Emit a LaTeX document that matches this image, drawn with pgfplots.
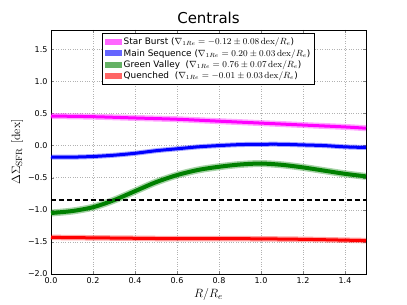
\documentclass[border=0pt]{standalone}
\usepackage{pgfplots}
\pgfplotsset{compat=1.18}
\usepackage[no-math]{fontspec}
\setmainfont{DejaVu Sans}
\definecolor{mpmag}{RGB}{255,0,255}
\definecolor{mpblue}{RGB}{0,0,255}
\definecolor{mpgreen}{RGB}{0,128,0}
\definecolor{mpred}{RGB}{255,0,0}
\begin{document}
\begin{tikzpicture}[x=1pt,y=1pt]
\begin{axis}[
  name=ax,
  at={(0,0)}, anchor=south west,
  scale only axis, width=315pt, height=244pt,
  xmin=0, xmax=1.5, ymin=-2.0, ymax=1.8,
  xtick={0,0.2,0.4,0.6,0.8,1.0,1.2,1.4},
  xticklabels={0.0,0.2,0.4,0.6,0.8,1.0,1.2,1.4},
  ytick={-2.0,-1.5,-1.0,-0.5,0.0,0.5,1.0,1.5},
  yticklabels={−2.0,−1.5,−1.0,−0.5,0.0,0.5,1.0,1.5},
  tick label style={font=\fontsize{8}{9}\selectfont},
  tick align=inside, tick pos=both,
  major tick length=3pt,
  grid=major,
  major grid style={gray!60, dotted, line width=0.5pt},
  axis line style={line width=0.8pt},
  title={Centrals},
  title style={font=\fontsize{15}{17}\selectfont, yshift=-3pt},
  xlabel={$R/R_e$},
  ylabel={$\Delta\Sigma_{\rm SFR}\ [{\rm dex}]$},
  xlabel style={font=\fontsize{13}{15}\selectfont, yshift=2pt},
  ylabel style={font=\fontsize{13}{15}\selectfont, yshift=-2pt},
  legend style={at={(0.5,0.987)}, anchor=north, draw=black, line width=0.7pt,
    fill=white, font=\fontsize{8.9}{10}\selectfont, row sep=-1pt, inner sep=2.5pt},
  legend image code/.code={\fill[#1] (0pt,-3pt) rectangle (17pt,3pt);},
  legend cell align=left,
]
\addlegendimage{draw=none, fill=mpmag, fill opacity=0.6}
\addlegendentry{Star Burst ($\nabla_{1Re} = -0.12\pm0.08\,{\rm dex}/R_e$)}
\addlegendimage{draw=none, fill=mpblue, fill opacity=0.6}
\addlegendentry{Main Sequence ($\nabla_{1Re} = 0.20\pm0.03\,{\rm dex}/R_e$)}
\addlegendimage{draw=none, fill=mpgreen, fill opacity=0.6}
\addlegendentry{Green Valley\ \ ($\nabla_{1Re} = 0.76\pm0.07\,{\rm dex}/R_e$)}
\addlegendimage{draw=none, fill=mpred, fill opacity=0.6}
\addlegendentry{Quenched\ \ ($\nabla_{1Re} = -0.01\pm0.03\,{\rm dex}/R_e$)}

% Star burst
\addplot[mpmag, opacity=0.35, line width=6pt, smooth, forget plot] coordinates {(0,0.46)(0.2,0.45)(0.4,0.43)(0.6,0.41)(0.8,0.38)(1.0,0.35)(1.2,0.32)(1.4,0.29)(1.5,0.27)};
\addplot[mpmag, line width=3pt, smooth, forget plot] coordinates {(0,0.46)(0.2,0.45)(0.4,0.43)(0.6,0.41)(0.8,0.38)(1.0,0.35)(1.2,0.32)(1.4,0.29)(1.5,0.27)};
% Main sequence
\addplot[mpblue, opacity=0.35, line width=5pt, smooth, forget plot] coordinates {(0,-0.18)(0.1,-0.18)(0.2,-0.17)(0.3,-0.15)(0.4,-0.12)(0.5,-0.08)(0.6,-0.05)(0.7,-0.02)(0.8,0.0)(0.9,0.015)(1.0,0.02)(1.1,0.02)(1.2,0.01)(1.3,0.0)(1.4,-0.02)(1.5,-0.03)};
\addplot[mpblue, line width=3pt, smooth, forget plot] coordinates {(0,-0.18)(0.1,-0.18)(0.2,-0.17)(0.3,-0.15)(0.4,-0.12)(0.5,-0.08)(0.6,-0.05)(0.7,-0.02)(0.8,0.0)(0.9,0.015)(1.0,0.02)(1.1,0.02)(1.2,0.01)(1.3,0.0)(1.4,-0.02)(1.5,-0.03)};
% Green valley
\addplot[mpgreen, opacity=0.35, line width=7pt, smooth, forget plot] coordinates {(0,-1.05)(0.1,-1.02)(0.2,-0.96)(0.3,-0.85)(0.4,-0.71)(0.5,-0.57)(0.6,-0.46)(0.7,-0.38)(0.8,-0.33)(0.9,-0.295)(1.0,-0.28)(1.1,-0.30)(1.2,-0.34)(1.3,-0.39)(1.4,-0.44)(1.5,-0.48)};
\addplot[mpgreen, line width=4pt, smooth, forget plot] coordinates {(0,-1.05)(0.1,-1.02)(0.2,-0.96)(0.3,-0.85)(0.4,-0.71)(0.5,-0.57)(0.6,-0.46)(0.7,-0.38)(0.8,-0.33)(0.9,-0.295)(1.0,-0.28)(1.1,-0.30)(1.2,-0.34)(1.3,-0.39)(1.4,-0.44)(1.5,-0.48)};
% Quenched
\addplot[mpred, opacity=0.35, line width=5.5pt, smooth, forget plot] coordinates {(0,-1.43)(0.3,-1.44)(0.6,-1.45)(0.9,-1.45)(1.2,-1.46)(1.5,-1.48)};
\addplot[mpred, line width=3pt, smooth, forget plot] coordinates {(0,-1.43)(0.3,-1.44)(0.6,-1.45)(0.9,-1.45)(1.2,-1.46)(1.5,-1.48)};
% dashed line
\addplot[black, line width=2pt, dash pattern=on 5pt off 3pt, forget plot] coordinates {(0,-0.85)(1.5,-0.85)};
\end{axis}
\path (ax.south west) ++(-51pt,-31pt) rectangle ++(407pt,305pt);
\end{tikzpicture}
\end{document}
